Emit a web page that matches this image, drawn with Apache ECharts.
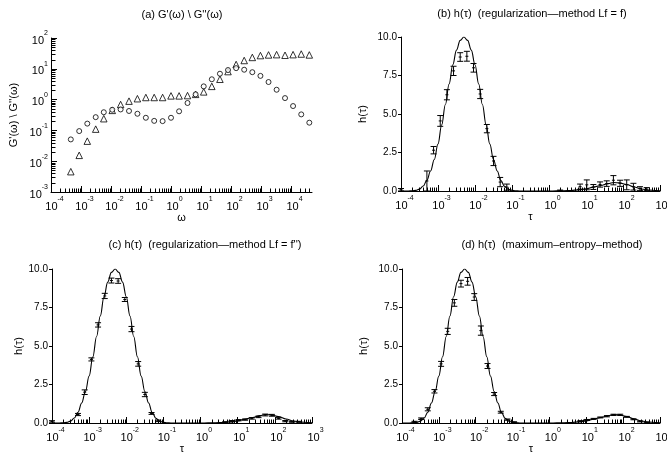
<!DOCTYPE html>
<html>
<head>
<meta charset="utf-8">
<script src="https://cdn.jsdelivr.net/npm/echarts@6/dist/echarts.min.js"></script>
<style>html,body{margin:0;padding:0;background:#fff;}#c{width:667px;height:456px;}</style>
</head>
<body>
<div id="c"></div>
<script>
// ---------- Panel (a): G'(omega), G''(omega) ----------
const omega = [4.57e-4, 8.71e-4, 1.62e-3, 3.09e-3, 5.75e-3, 1.10e-2, 2.09e-2, 3.98e-2, 7.59e-2, 0.145,
  0.275, 0.525, 1.0, 1.86, 3.55, 6.61, 12.3, 22.9, 42.7, 79.4,
  148, 275, 513, 955, 1780, 3310, 6310, 11700, 21900, 40700];
const gTriangle = [0.00457, 0.0155, 0.0447, 0.110, 0.240, 0.447, 0.692, 0.891, 1.07, 1.17,
  1.17, 1.17, 1.32, 1.32, 1.35, 1.48, 1.78, 2.69, 4.57, 8.13,
  13.8, 18.6, 23.4, 26.9, 28.2, 28.8, 27.5, 28.8, 30.2, 28.2];
const gCircle = [0.051, 0.095, 0.166, 0.269, 0.389, 0.468, 0.479, 0.427, 0.347, 0.257,
  0.204, 0.200, 0.257, 0.417, 0.776, 1.48, 2.69, 4.57, 6.92, 9.12,
  10.5, 9.33, 7.76, 5.89, 3.72, 2.09, 1.12, 0.617, 0.331, 0.178];

// ---------- true spectrum h(tau) (solid curve, same in b, c, d) ----------
const curveLogTau = [-4.0, -3.8, -3.7, -3.6, -3.5, -3.4, -3.3, -3.2, -3.1, -3.0, -2.9, -2.8, -2.7, -2.6, -2.5, -2.4,
  -2.3, -2.2, -2.1, -2.0, -1.9, -1.8, -1.7, -1.6, -1.5, -1.4, -1.3, -1.2, -1.1, -1.0, -0.9, -0.8, -0.6,
  0.0, 0.2, 0.4, 0.6, 0.8, 1.0, 1.2, 1.4, 1.6, 1.75, 1.9, 2.1, 2.3, 2.5, 2.7, 2.9, 3.0];
const curveH = [0.0, 0.003, 0.01, 0.04, 0.12, 0.32, 0.7, 1.3, 2.05, 3.05, 4.3, 5.62, 6.95, 8.2, 9.15, 9.78,
  10.0, 9.78, 9.15, 8.2, 6.95, 5.62, 4.3, 3.05, 2.05, 1.3, 0.68, 0.3, 0.11, 0.04, 0.01, 0.003, 0.0,
  0.0, 0.005, 0.015, 0.035, 0.075, 0.14, 0.25, 0.36, 0.48, 0.55, 0.53, 0.42, 0.26, 0.13, 0.06, 0.03, 0.02];

// ---------- Panel (b): regularization Lf = f ----------
const tauB = [1e-4, 5.01e-4, 7.59e-4, 1.15e-3, 1.74e-3, 2.63e-3, 3.98e-3, 6.03e-3, 9.12e-3, 1.38e-2, 2.09e-2, 3.16e-2, 4.79e-2, 7.24e-2,
  2.0, 6.92, 10.5, 15.8, 24.0, 36.3, 55.0, 83.2, 126, 191, 288, 437];
const hB = [0.08, 0.65, 2.65, 4.55, 6.25, 7.8, 8.7, 8.75, 8.0, 6.3, 4.05, 1.95, 0.58, 0.25,
  0.03, 0.28, 0.4, 0.26, 0.42, 0.48, 0.7, 0.5, 0.4, 0.28, 0.16, 0.12];
const errB = [0.08, 0.65, 0.24, 0.35, 0.33, 0.3, 0.28, 0.32, 0.28, 0.3, 0.27, 0.3, 0.3, 0.2,
  0.03, 0.17, 0.32, 0.16, 0.17, 0.18, 0.3, 0.2, 0.32, 0.22, 0.12, 0.1];

// ---------- Panel (c): regularization Lf = f'' ----------
const tauC = [1e-4, 5.01e-4, 7.59e-4, 1.15e-3, 1.74e-3, 2.63e-3, 3.98e-3, 6.03e-3, 9.12e-3, 1.38e-2, 2.09e-2, 3.16e-2, 4.79e-2, 7.24e-2,
  4.57, 6.92, 10.5, 15.8, 24.0, 36.3, 55.0, 83.2, 126, 191, 288, 437];
const hC = [0.1, 0.55, 2.0, 4.13, 6.37, 8.25, 9.25, 9.22, 8.02, 6.1, 3.84, 1.85, 0.62, 0.14,
  0.05, 0.12, 0.18, 0.22, 0.3, 0.4, 0.52, 0.5, 0.3, 0.12, 0.08, 0.08];
const errC = [0.05, 0.07, 0.15, 0.1, 0.14, 0.17, 0.16, 0.15, 0.13, 0.17, 0.15, 0.14, 0.06, 0.05,
  0.03, 0.04, 0.04, 0.04, 0.05, 0.05, 0.06, 0.06, 0.05, 0.04, 0.03, 0.03];

// ---------- Panel (d): maximum entropy ----------
const tauD = [2.19e-4, 3.31e-4, 5.01e-4, 7.59e-4, 1.15e-3, 1.74e-3, 2.63e-3, 3.98e-3, 6.03e-3, 9.12e-3, 1.38e-2, 2.09e-2, 3.16e-2, 4.79e-2, 7.24e-2, 0.110,
  6.92, 10.5, 15.8, 24.0, 36.3, 55.0, 83.2, 126, 191, 288, 437];
const hD = [0.08, 0.28, 0.89, 2.06, 3.84, 5.95, 7.8, 9.05, 9.2, 8.18, 6.0, 3.7, 1.88, 0.7, 0.22, 0.05,
  0.12, 0.2, 0.27, 0.36, 0.44, 0.53, 0.53, 0.4, 0.24, 0.1, 0.04];
const errD = [0.03, 0.05, 0.1, 0.11, 0.16, 0.2, 0.22, 0.22, 0.25, 0.22, 0.3, 0.16, 0.1, 0.06, 0.04, 0.03,
  0.03, 0.03, 0.03, 0.03, 0.04, 0.04, 0.04, 0.03, 0.03, 0.03, 0.02];

const hTickLabels = ['0.0', '2.5', '5.0', '7.5', '10.0'];
const minorMultipliers = [2, 3, 4, 5, 6, 7, 8, 9];
const titles = ["(a) G'(\u03c9) \\ G''(\u03c9)",
  "(b) h(\u03c4)  (regularization\u2014method Lf = f)",
  "(c) h(\u03c4)  (regularization\u2014method Lf = f'')",
  "(d) h(\u03c4)  (maximum\u2013entropy\u2013method)"];

const FONT = 'Liberation Sans';
const chart = echarts.init(document.getElementById('c'), null, {renderer: 'canvas'});

const grids = [
  {left: 51, top: 38, width: 261, height: 154},
  {left: 401, top: 37, width: 259, height: 154},
  {left: 52, top: 269, width: 260, height: 154},
  {left: 402, top: 269, width: 258, height: 154}
].map(g => Object.assign({outerBoundsMode: 'none', containLabel: false}, g));

function powLabel(v) {
  const e = Math.round(Math.log10(v));
  return '{b|10}{s|' + e + '}';
}
const powRich = {
  b: {fontSize: 11, fontFamily: FONT, color: '#000', lineHeight: 16, verticalAlign: 'bottom'},
  s: {fontSize: 7, fontFamily: FONT, color: '#000', lineHeight: 16, verticalAlign: 'top', padding: [0, 0, 6, 0]}
};
const black = {color: '#000', width: 1};

function logXAxis(gi, min, max, name, gap, showMax) {
  return {
    type: 'log', logBase: 10, gridIndex: gi, min: min, max: max, interval: 1,
    name: name, nameLocation: 'middle', nameGap: gap,
    nameTextStyle: {fontFamily: FONT, fontSize: 11, color: '#000'},
    axisLine: {show: true, onZero: false, lineStyle: black},
    axisTick: {show: true, inside: true, length: 6, lineStyle: black},
    splitLine: {show: false},
    axisLabel: {formatter: powLabel, rich: powRich, margin: 4, showMaxLabel: showMax, padding: [0, 0, 0, 7]}
  };
}
function hYAxis(gi, name, gap) {
  return {
    type: 'value', gridIndex: gi, min: 0, max: 10, interval: 2.5,
    name: name, nameLocation: 'middle', nameGap: gap,
    nameTextStyle: {fontFamily: FONT, fontSize: 11, color: '#000'},
    axisLine: {show: true, onZero: false, lineStyle: black},
    axisTick: {show: true, inside: false, length: 3, lineStyle: black},
    splitLine: {show: false},
    axisLabel: {fontFamily: FONT, fontSize: 10, color: '#000', margin: 4,
      formatter: v => hTickLabels[Math.round(v / 2.5)]}
  };
}

const xAxes = [
  logXAxis(0, 1e-4, 5e4, '\u03c9', 18, false),
  logXAxis(1, 1e-4, 1e3, '\u03c4', 19, true),
  logXAxis(2, 1e-4, 1e3, '\u03c4', 20, true),
  logXAxis(3, 1e-4, 1e3, '\u03c4', 20, true)
];
const yAxes = [
  {
    type: 'log', logBase: 10, gridIndex: 0, min: 1e-3, max: 1e2, interval: 1,
    name: "G'(\u03c9) \\ G''(\u03c9)", nameLocation: 'middle', nameGap: 32,
    nameTextStyle: {fontFamily: FONT, fontSize: 11, color: '#000'},
    axisLine: {show: true, onZero: false, lineStyle: black},
    axisTick: {show: true, inside: true, length: 6, lineStyle: black},
    splitLine: {show: false},
    axisLabel: {formatter: powLabel, rich: powRich, margin: 3}
  },
  hYAxis(1, 'h(\u03c4)', 33),
  hYAxis(2, 'h(\u03c4)', 16),
  hYAxis(3, 'h(\u03c4)', 33)
];

// minor (2..9 x 10^k) tick positions on the log axes, drawn through the axis scale
function minorValues(lo, hi, maxV) {
  const out = [];
  for (let k = lo; k <= hi; k++) {
    minorMultipliers.forEach(m => { const v = m * Math.pow(10, k); if (v < maxV) out.push(v); });
  }
  return out;
}
function minorTickSeries(idx, values, other, vertical) {
  return {
    type: 'custom', xAxisIndex: idx, yAxisIndex: idx, z: 5, silent: true, clip: false,
    data: values.map(v => vertical ? [other, v] : [v, other]),
    renderItem: function (params, api) {
      const p = api.coord([api.value(0), api.value(1)]);
      const px = Math.round(p[0]) + 0.5, py = Math.round(p[1]) + 0.5;
      const shape = vertical ? {x1: px, y1: py, x2: px + 4, y2: py}
                             : {x1: px, y1: py, x2: px, y2: py - 4};
      return {type: 'group', children: [
        {type: 'line', shape: shape, style: {stroke: '#000', lineWidth: 1}}
      ]};
    }
  };
}

function errorBarSeries(idx, taus, hs, errs) {
  return {
    type: 'custom', xAxisIndex: idx, yAxisIndex: idx, z: 3,
    data: taus.map((t, i) => [t, hs[i], errs[i]]),
    renderItem: function (params, api) {
      const x = api.value(0), y = api.value(1), e = api.value(2);
      const lo = api.coord([x, Math.max(0, y - e)]);
      const hi = api.coord([x, y + e]);
      const c = api.coord([x, y]);
      const w = 3;
      const st = {stroke: '#000', lineWidth: 1};
      return {
        type: 'group', children: [
          {type: 'line', shape: {x1: lo[0], y1: lo[1], x2: hi[0], y2: hi[1]}, style: st},
          {type: 'line', shape: {x1: lo[0] - w, y1: lo[1], x2: lo[0] + w, y2: lo[1]}, style: st},
          {type: 'line', shape: {x1: hi[0] - w, y1: hi[1], x2: hi[0] + w, y2: hi[1]}, style: st},
          {type: 'line', shape: {x1: c[0] - 1.5, y1: c[1], x2: c[0] + 1.5, y2: c[1]}, style: st}
        ]
      };
    }
  };
}
function curveSeries(idx) {
  return {
    type: 'line', xAxisIndex: idx, yAxisIndex: idx, z: 2,
    data: curveLogTau.map((L, i) => [Math.pow(10, L), curveH[i]]),
    showSymbol: false, smooth: 0.4, smoothMonotone: 'x',
    lineStyle: {color: '#000', width: 1.1}, silent: true
  };
}

const series = [
  {type: 'scatter', xAxisIndex: 0, yAxisIndex: 0, symbol: 'triangle', symbolSize: 6.5,
    itemStyle: {color: '#fff', borderColor: '#000', borderWidth: 1}, data: omega.map((w, i) => [w, gTriangle[i]])},
  {type: 'scatter', xAxisIndex: 0, yAxisIndex: 0, symbol: 'circle', symbolSize: 5,
    itemStyle: {color: '#fff', borderColor: '#000', borderWidth: 1}, data: omega.map((w, i) => [w, gCircle[i]])},
  minorTickSeries(0, minorValues(-4, 4, 5e4), 1e-3, false),
  minorTickSeries(0, minorValues(-3, 1, 1e2), 1e-4, true),
  curveSeries(1), errorBarSeries(1, tauB, hB, errB), minorTickSeries(1, minorValues(-4, 2, 1e3), 0, false),
  curveSeries(2), errorBarSeries(2, tauC, hC, errC), minorTickSeries(2, minorValues(-4, 2, 1e3), 0, false),
  curveSeries(3), errorBarSeries(3, tauD, hD, errD), minorTickSeries(3, minorValues(-4, 2, 1e3), 0, false)
];

const titlePos = [[182, 15], [532, 14], [205, 245], [552, 245]];
const graphic = titles.map((t, i) => ({
  type: 'text', x: titlePos[i][0], y: titlePos[i][1], z: 10,
  style: {text: t, fill: '#000', font: '11px "' + FONT + '"', textAlign: 'center', textVerticalAlign: 'middle'}
}));

chart.setOption({
  backgroundColor: '#fff',
  animation: false,
  grid: grids,
  xAxis: xAxes,
  yAxis: yAxes,
  series: series,
  graphic: graphic
});
</script>
</body>
</html>
